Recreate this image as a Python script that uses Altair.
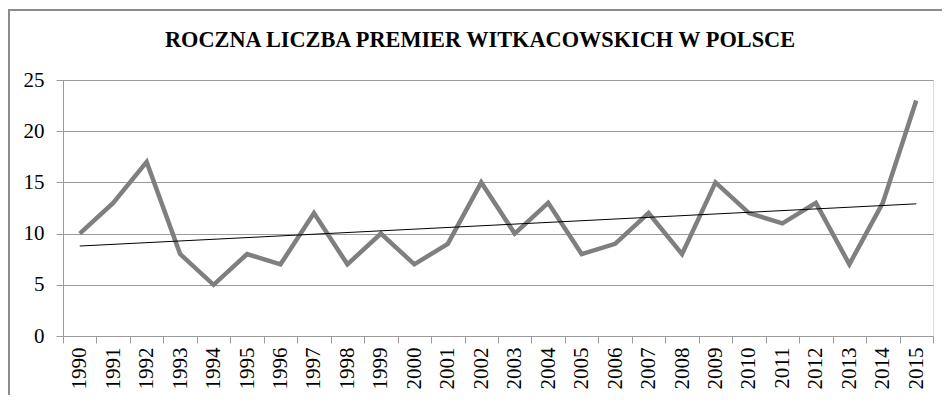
import altair as alt
import pandas as pd

years = list(range(1990, 2016))
values = [10, 13, 17, 8, 5, 8, 7, 12, 7, 10, 7, 9, 15, 10, 13, 8, 9, 12, 8, 15, 12, 11, 13, 7, 13, 23]
y_ticks = [0, 5, 10, 15, 20, 25]
title_text = "ROCZNA LICZBA PREMIER WITKACOWSKICH W POLSCE"

df = pd.DataFrame({"year": years, "value": values})
tdf = pd.DataFrame({"t": [title_text]})

W, H = 870, 256
FONT = "'Liberation Serif', 'Times New Roman', Times, serif"
GRAY = "#8c8c8c"
GRID = "#9a9a9a"

xenc = alt.X(
    "year:O",
    title=None,
    scale=alt.Scale(type="band", paddingInner=0, paddingOuter=0),
    axis=alt.Axis(
        labelAngle=-90,
        tickBand="extent",
        tickSize=7,
        labelPadding=4,
        domainColor=GRID,
        tickColor=GRID,
        labelFont=FONT,
        labelFontSize=21,
        labelColor="black",
        grid=False,
    ),
)
yenc = alt.Y(
    "value:Q",
    title=None,
    scale=alt.Scale(domain=[0, 25], nice=False),
    axis=alt.Axis(
        values=y_ticks,
        tickSize=7,
        labelPadding=12,
        domainColor=GRID,
        tickColor=GRID,
        gridColor=GRID,
        labelFont=FONT,
        labelFontSize=21,
        labelColor="black",
    ),
)

frame = alt.Chart(df).mark_rect(
    fill=None, stroke=GRAY, strokeWidth=2, clip=False
).encode(
    x=alt.value(-54), x2=alt.value(W + 30), y=alt.value(-70), y2=alt.value(H + 75)
)

title = alt.Chart(tdf).mark_text(
    font=FONT, fontSize=22.3, fontWeight="bold", color="black",
    align="center", baseline="middle",
).encode(text="t:N", x=alt.value(417), y=alt.value(-40))

line = alt.Chart(df).mark_line(color="#7f7f7f", strokeWidth=4.5, strokeJoin="miter").encode(
    x=xenc, y=yenc
)

trend = alt.Chart(df).transform_regression("year", "value", method="linear").mark_line(
    color="black", strokeWidth=1
).encode(x=alt.X("year:O"), y=alt.Y("value:Q"))

chart = alt.layer(frame, title, line, trend).properties(
    width=W,
    height=H,
    autosize=alt.AutoSizeParams(type="none"),
    padding={"left": 55, "top": 72, "right": 9, "bottom": 59},
).configure_view(stroke=None).configure(background="white")

chart.save("out.html", embed_options={"renderer": "svg", "actions": False})
